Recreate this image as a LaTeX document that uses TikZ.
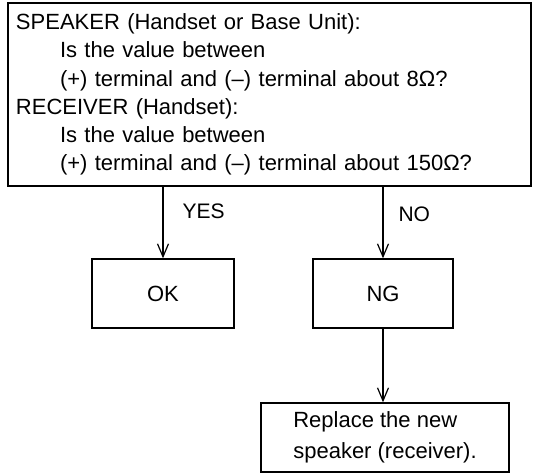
\documentclass[tikz,border=0pt]{standalone}
\usepackage{fontspec}
\setmainfont{Liberation Sans}
\usetikzlibrary{arrows.meta}

\begin{document}
\begin{tikzpicture}[
    x=1pt, y=-1pt,
    box/.style={draw=black, line width=1.4pt, inner sep=0pt, font=\fontsize{22}{28.2}\selectfont},
    flow/.style={line width=1.2pt, -{Straight Barb[length=13pt, width=11pt]}},
    lbl/.style={font=\fontsize{21}{25}\selectfont, anchor=base west}
]
    \useasboundingbox (0,0) rectangle (533,473);

    % Pregunta de medida
    \node[box, minimum width=523pt, minimum height=183pt, text width=507pt, align=left] (question) at (269.5,94.5) {%
        SPEAKER (Handset or Base Unit):\\
        \hspace*{44pt}Is the value between\\
        \hspace*{44pt}(+) terminal and (–) terminal about 8Ω?\\
        RECEIVER (Handset):\\
        \hspace*{44pt}Is the value between\\
        \hspace*{44pt}(+) terminal and (–) terminal about 150Ω?};

    % Resultados
    \node[box, minimum width=142pt, minimum height=69pt] (ok) at (163,293.5) {OK};
    \node[box, minimum width=140pt, minimum height=69pt] (ng) at (383,293.5) {NG};
    \node[box, minimum width=248pt, minimum height=69pt, align=left, font=\fontsize{22}{31}\selectfont] (fix) at (385,437.5) {Replace the new\\speaker (receiver).};

    % Flechas
    \draw[flow] (question.south -| ok.north) -- (ok.north);
    \draw[flow] (question.south -| ng.north) -- (ng.north);
    \draw[flow] (ng.south) -- (ng.south |- fix.north);

    % Etiquetas
    \node[lbl] (yes) at (179,219) {YES};
    \node[lbl] (no) at (395,222) {NO};

\end{tikzpicture}
\end{document}
